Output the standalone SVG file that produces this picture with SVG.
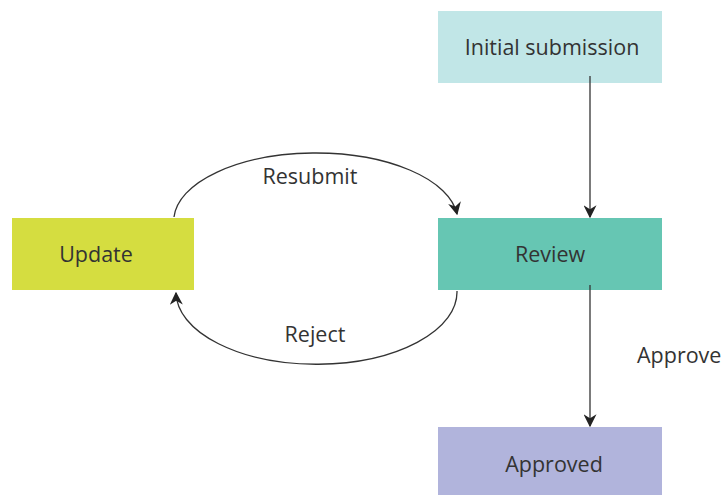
<svg xmlns="http://www.w3.org/2000/svg" width="726" height="495" viewBox="0 0 726 495">
<style>
text{font-family:"Open Sans","Noto Sans","Liberation Sans",sans-serif;font-size:21.5px;fill:#333}
.c{stroke:#333;stroke-width:1.3;fill:none}
</style>
<defs>
<marker id="ah" viewBox="0 0 10 10" refX="9" refY="5" markerWidth="13" markerHeight="13" markerUnits="userSpaceOnUse" orient="auto">
<path d="M0,0 L10,5 L0,10 L3,5 Z" fill="#222"/>
</marker>
</defs>
<rect width="726" height="495" fill="#fff"/>
<g id="initial"><rect x="438" y="11" width="224" height="72" fill="#c1e6e7"/><text x="552" y="55" text-anchor="middle">Initial submission</text></g>
<g id="review"><rect x="438" y="218" width="224" height="72" fill="#66c6b3"/><text x="550" y="262" text-anchor="middle">Review</text></g>
<g id="update"><rect x="12" y="218" width="182" height="72" fill="#d5dd40"/><text x="96" y="262" text-anchor="middle">Update</text></g>
<g id="approved"><rect x="438" y="427" width="224" height="68" fill="#b1b4dc"/><text x="554" y="472" text-anchor="middle">Approved</text></g>
<g id="connectors">
<path class="c" d="M590,76 L590,217" marker-end="url(#ah)"/>
<path class="c" d="M590,285 L590,426" marker-end="url(#ah)"/>
<path class="c" d="M174,217 A142,68 0 0 1 457,214" marker-end="url(#ah)"/>
<path class="c" d="M457,291 A140,72 0 0 1 176,293" marker-end="url(#ah)"/>
<text x="310" y="184" text-anchor="middle">Resubmit</text>
<text x="315" y="342" text-anchor="middle">Reject</text>
<text x="637" y="363">Approve</text>
</g>
</svg>
